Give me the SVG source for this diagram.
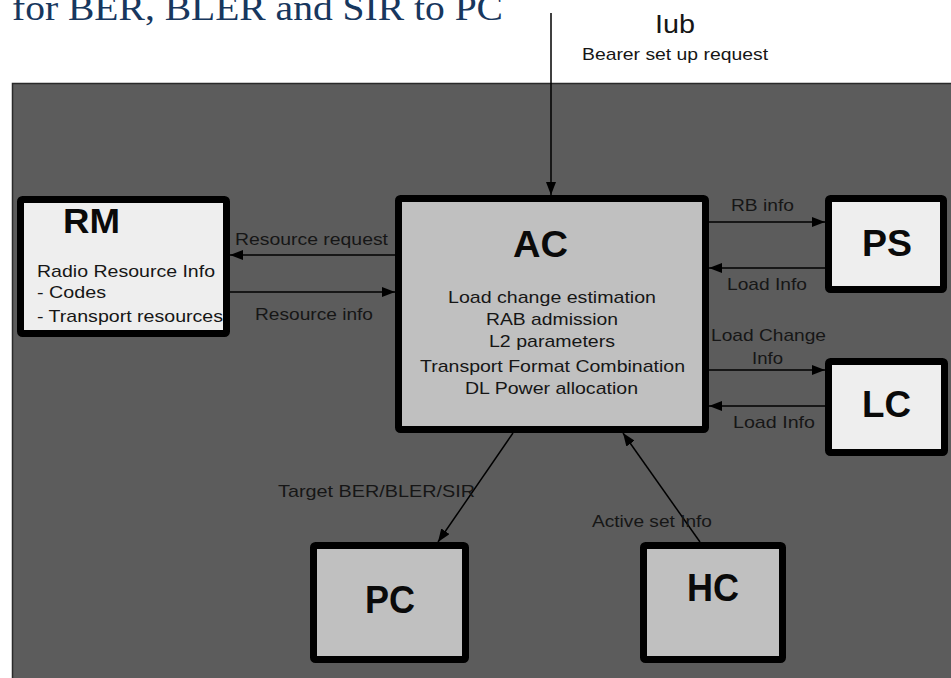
<svg xmlns="http://www.w3.org/2000/svg" width="951" height="678" viewBox="0 0 951 678">
<style>
.t{font-family:"Liberation Sans",Arial,sans-serif;font-size:17px;fill:#161616}
.b{font-family:"Liberation Sans",Arial,sans-serif;font-size:36px;font-weight:bold;fill:#0a0a0a}
.box{stroke:#000;stroke-width:7}
.lt{fill:#eeeeee}
.gr{fill:#c0c0c0}
.c{stroke:#000;stroke-width:1.5;fill:none;marker-end:url(#ah)}
</style>
<defs>
<marker id="ah" viewBox="0 0 13 10" refX="13" refY="5" markerWidth="13" markerHeight="10" markerUnits="userSpaceOnUse" orient="auto">
<path d="M0,0 L13,5 L0,10 z" fill="#000"/>
</marker>
</defs>
<rect width="951" height="678" fill="#ffffff"/>
<text x="12" y="20" textLength="491" lengthAdjust="spacingAndGlyphs" style="font-family:'Liberation Serif','Times New Roman',serif;font-size:36px;fill:#17375e">for BER, BLER and SIR to PC</text>
<rect id="region" x="12.5" y="83.5" width="945" height="600" fill="#5c5c5c" stroke="#2a2a2a" stroke-width="1.5"/>
<text class="t" x="655" y="33" textLength="40" lengthAdjust="spacingAndGlyphs" style="font-size:25px">Iub</text>
<text class="t" x="582" y="60" textLength="186" lengthAdjust="spacingAndGlyphs">Bearer set up request</text>
<g id="connectors">
<line class="c" x1="551" y1="13" x2="551" y2="195"/>
<line class="c" x1="395" y1="255" x2="230" y2="255"/>
<line class="c" x1="230" y1="292" x2="395" y2="292"/>
<line class="c" x1="709" y1="222" x2="825" y2="222"/>
<line class="c" x1="825" y1="268" x2="709" y2="268"/>
<line class="c" x1="703" y1="370" x2="825" y2="370"/>
<line class="c" x1="825" y1="406" x2="709" y2="406"/>
<line class="c" x1="513" y1="433" x2="438" y2="542"/>
<line class="c" x1="700" y1="542" x2="623" y2="433"/>
<text class="t" x="235" y="245" textLength="153" lengthAdjust="spacingAndGlyphs">Resource request</text>
<text class="t" x="255" y="320" textLength="118" lengthAdjust="spacingAndGlyphs">Resource info</text>
<text class="t" x="731" y="211" textLength="63" lengthAdjust="spacingAndGlyphs">RB info</text>
<text class="t" x="727" y="290" textLength="80" lengthAdjust="spacingAndGlyphs">Load Info</text>
<text class="t" x="711" y="341" textLength="115" lengthAdjust="spacingAndGlyphs">Load Change</text>
<text class="t" x="752" y="364" textLength="31" lengthAdjust="spacingAndGlyphs">Info</text>
<text class="t" x="733" y="428" textLength="82" lengthAdjust="spacingAndGlyphs">Load Info</text>
<text class="t" x="278" y="497" textLength="197" lengthAdjust="spacingAndGlyphs">Target BER/BLER/SIR</text>
<text class="t" x="592" y="527" textLength="120" lengthAdjust="spacingAndGlyphs">Active set Info</text>
</g>
<g id="RM">
<rect class="box lt" x="20.5" y="199.5" width="206" height="134" rx="2"/>
<text class="b" x="63" y="233" textLength="57" lengthAdjust="spacingAndGlyphs" style="font-size:35px">RM</text>
<text class="t" x="37" y="277" textLength="178" lengthAdjust="spacingAndGlyphs">Radio Resource Info</text>
<text class="t" x="37" y="298" textLength="69" lengthAdjust="spacingAndGlyphs">- Codes</text>
<text class="t" x="37" y="322" textLength="186" lengthAdjust="spacingAndGlyphs">- Transport resources</text>
</g>
<g id="AC">
<rect class="box gr" x="398.5" y="198.5" width="307" height="231" rx="2"/>
<text class="b" x="513" y="257" textLength="55" lengthAdjust="spacingAndGlyphs">AC</text>
<text class="t" x="448" y="303" textLength="208" lengthAdjust="spacingAndGlyphs">Load change estimation</text>
<text class="t" x="486" y="325" textLength="132" lengthAdjust="spacingAndGlyphs">RAB admission</text>
<text class="t" x="489" y="347" textLength="126" lengthAdjust="spacingAndGlyphs">L2 parameters</text>
<text class="t" x="420" y="372" textLength="265" lengthAdjust="spacingAndGlyphs">Transport Format Combination</text>
<text class="t" x="465" y="394" textLength="173" lengthAdjust="spacingAndGlyphs">DL Power allocation</text>
</g>
<g id="PS">
<rect class="box lt" x="828.5" y="198.5" width="115" height="91" rx="2"/>
<text class="b" x="862" y="256" textLength="50" lengthAdjust="spacingAndGlyphs">PS</text>
</g>
<g id="LC">
<rect class="box lt" x="828.5" y="361.5" width="116" height="91" rx="2"/>
<text class="b" x="862" y="417" textLength="49" lengthAdjust="spacingAndGlyphs" style="font-size:37px">LC</text>
</g>
<g id="PC">
<rect class="box gr" x="313.5" y="545.5" width="152" height="114" rx="2"/>
<text class="b" x="365" y="613" textLength="50" lengthAdjust="spacingAndGlyphs" style="font-size:38px">PC</text>
</g>
<g id="HC">
<rect class="box gr" x="643.5" y="545.5" width="139" height="114" rx="2"/>
<text class="b" x="687" y="601" textLength="52" lengthAdjust="spacingAndGlyphs" style="font-size:39px">HC</text>
</g>
</svg>
